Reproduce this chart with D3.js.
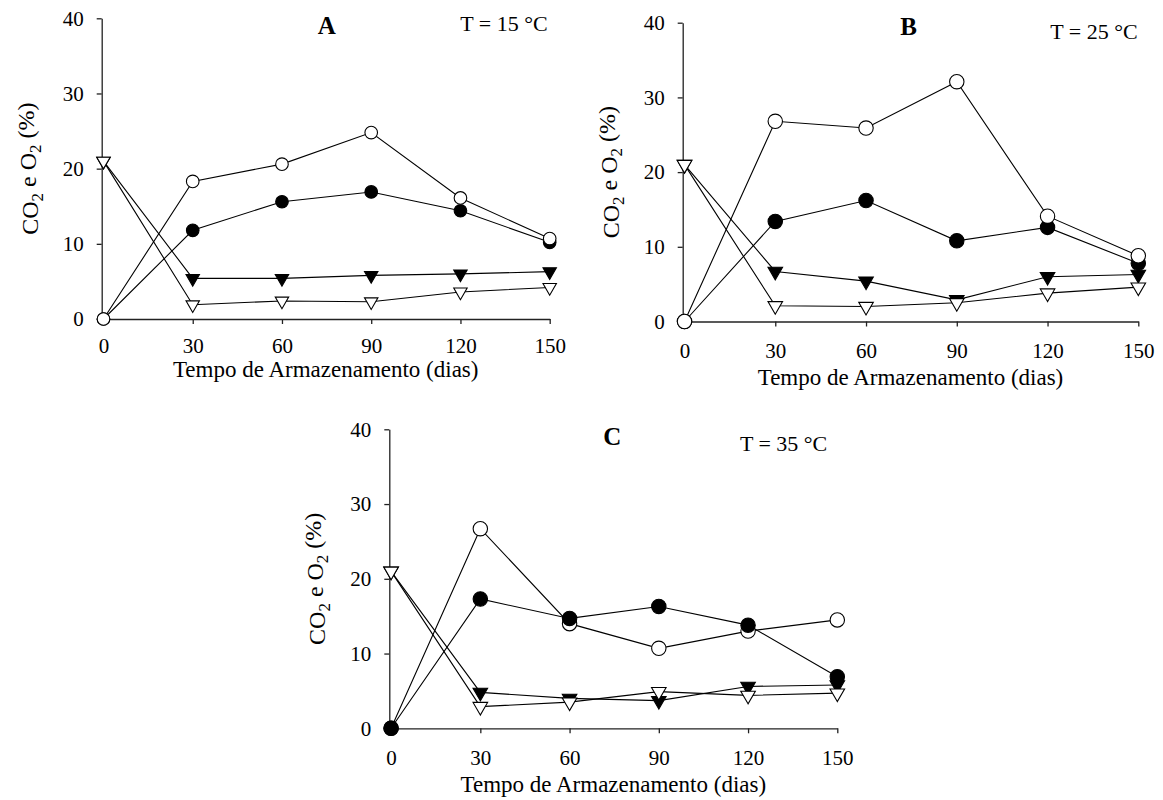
<!DOCTYPE html>
<html>
<head>
<meta charset="utf-8">
<script src="https://cdn.jsdelivr.net/npm/d3@7"></script>
<style>
  body { margin: 0; background: #fff; }
  svg { display: block; font-family: "Liberation Serif", "Times New Roman", serif; }
  .axis path, .axis line { stroke: #222; stroke-width: 1.3; }
  .axis text { font-size: 21px; fill: #000; font-family: "Liberation Serif", serif; }
</style>
</head>
<body>
<script>
"use strict";

// storage time (days)
var days = [0, 30, 60, 90, 120, 150];
var yTicks = [0, 10, 20, 30, 40];

// panel A, T = 15 °C
var openCircleA = [0, 18.3, 20.6, 24.8, 16.1, 10.7];
var filledCircleA = [0, 11.8, 15.6, 16.9, 14.4, 10.2];
var filledTriA = [21, 5.4, 5.4, 5.8, 6.0, 6.3];
var openTriA = [21, 1.9, 2.4, 2.3, 3.6, 4.2];

// panel B, T = 25 °C
var openCircleB = [0, 26.8, 25.9, 32.1, 14.1, 8.8];
var filledCircleB = [0, 13.4, 16.2, 10.8, 12.6, 7.8];
var filledTriB = [21, 6.7, 5.4, 2.9, 6.0, 6.3];
var openTriB = [21, 2.1, 2.0, 2.5, 3.8, 4.6];

// panel C, T = 35 °C
var openCircleC = [0, 26.7, 14.0, 10.7, 13.0, 14.5];
var filledCircleC = [0, 17.3, 14.7, 16.3, 13.8, 6.9];
var filledTriC = [21, 4.8, 4.0, 3.7, 5.6, 5.8];
var openTriC = [21, 2.9, 3.5, 4.9, 4.4, 4.7];

var svg = d3.select("body").append("svg")
    .attr("width", 1163)
    .attr("height", 800);

var panels = [
    {letter: "A", temp: "T = 15 °C", left: 101.7, top: 18.3, w: 448, h: 300.7,
     letterX: 225, letterY: 7, tempX: 446, tempY: 5,
     tickPad: 14, titleY: 58, r: 6.3, tri: 78,
     series: [
        {v: filledTriA, shape: "tri", fill: "#000"},
        {v: filledCircleA, shape: "circle", fill: "#000"},
        {v: openCircleA, shape: "circle", fill: "#fff"},
        {v: openTriA, shape: "tri", fill: "#fff"}
     ]},
    {letter: "B", temp: "T = 25 °C", left: 682.7, top: 22.7, w: 455.6, h: 298.8,
     letterX: 226, letterY: 4, tempX: 455, tempY: 9,
     tickPad: 17, titleY: 64, r: 7.2, tri: 92,
     series: [
        {v: filledTriB, shape: "tri", fill: "#000"},
        {v: filledCircleB, shape: "circle", fill: "#000"},
        {v: openCircleB, shape: "circle", fill: "#fff"},
        {v: openTriB, shape: "tri", fill: "#fff"}
     ]},
    {letter: "C", temp: "T = 35 °C", left: 389.3, top: 429.3, w: 448, h: 299,
     letterX: 223, letterY: 7, tempX: 438, tempY: 14,
     tickPad: 17, titleY: 64, r: 7.2, tri: 92,
     series: [
        {v: filledTriC, shape: "tri", fill: "#000"},
        {v: openCircleC, shape: "circle", fill: "#fff"},
        {v: filledCircleC, shape: "circle", fill: "#000"},
        {v: openTriC, shape: "tri", fill: "#fff"}
     ]}
];

panels.forEach(function(p) {
    var g = svg.append("g")
        .attr("transform", "translate(" + p.left + "," + p.top + ")");

    var x = d3.scaleLinear().domain([-0.6, 150]).range([0, p.w]);
    var y = d3.scaleLinear().domain([0, 40]).range([p.h, 0]);
    var triangle = d3.symbol().type(d3.symbolTriangle).size(p.tri);

    // y axis
    g.append("g")
        .attr("class", "axis")
        .call(d3.axisLeft(y).tickValues(yTicks).tickSize(5).tickPadding(13).tickSizeOuter(0));

    // x axis
    g.append("g")
        .attr("class", "axis")
        .attr("transform", "translate(0," + p.h + ")")
        .call(d3.axisBottom(x).tickValues(days).tickSize(5).tickPadding(p.tickPad).tickSizeOuter(0));

    // axis titles
    g.append("text")
        .attr("x", p.w / 2)
        .attr("y", p.h + p.titleY)
        .attr("text-anchor", "middle")
        .style("font-size", "23px")
        .text("Tempo de Armazenamento (dias)");

    var yt = g.append("text")
        .attr("transform", "translate(-64," + (p.h / 2) + ") rotate(-90)")
        .attr("text-anchor", "middle")
        .style("font-size", "24px");
    yt.append("tspan").text("CO");
    yt.append("tspan").attr("dy", "0.3em").style("font-size", "17px").text("2");
    yt.append("tspan").attr("dy", "-0.3em").text(" e O");
    yt.append("tspan").attr("dy", "0.3em").style("font-size", "17px").text("2");
    yt.append("tspan").attr("dy", "-0.3em").text(" (%)");

    // panel letter and temperature
    g.append("text")
        .attr("x", p.letterX)
        .attr("y", p.letterY)
        .attr("dy", "0.35em")
        .attr("text-anchor", "middle")
        .style("font-size", "25px")
        .style("font-weight", "bold")
        .text(p.letter);

    g.append("text")
        .attr("x", p.tempX)
        .attr("y", p.tempY)
        .attr("dy", "0.35em")
        .attr("text-anchor", "end")
        .style("font-size", "22px")
        .text(p.temp);

    var line = d3.line()
        .x(function(d, i) { return x(days[i]); })
        .y(function(d) { return y(d); });

    // lines under all markers
    p.series.forEach(function(s) {
        g.append("path")
            .datum(s.v)
            .attr("fill", "none")
            .attr("stroke", "#000")
            .attr("stroke-width", 1.1)
            .attr("d", line);
    });

    p.series.forEach(function(s) {
        if (s.shape === "circle") {
            g.selectAll(null)
                .data(s.v)
                .enter().append("circle")
                .attr("cx", function(d, i) { return x(days[i]); })
                .attr("cy", function(d) { return y(d); })
                .attr("r", p.r)
                .attr("fill", s.fill)
                .attr("stroke", "#000")
                .attr("stroke-width", 1.1);
        } else {
            g.selectAll(null)
                .data(s.v)
                .enter().append("path")
                .attr("d", triangle)
                .attr("transform", function(d, i) {
                    return "translate(" + x(days[i]) + "," + y(d) + ") rotate(180)";
                })
                .attr("fill", s.fill)
                .attr("stroke", "#000")
                .attr("stroke-width", 1.1);
        }
    });
});
</script>
</body>
</html>
